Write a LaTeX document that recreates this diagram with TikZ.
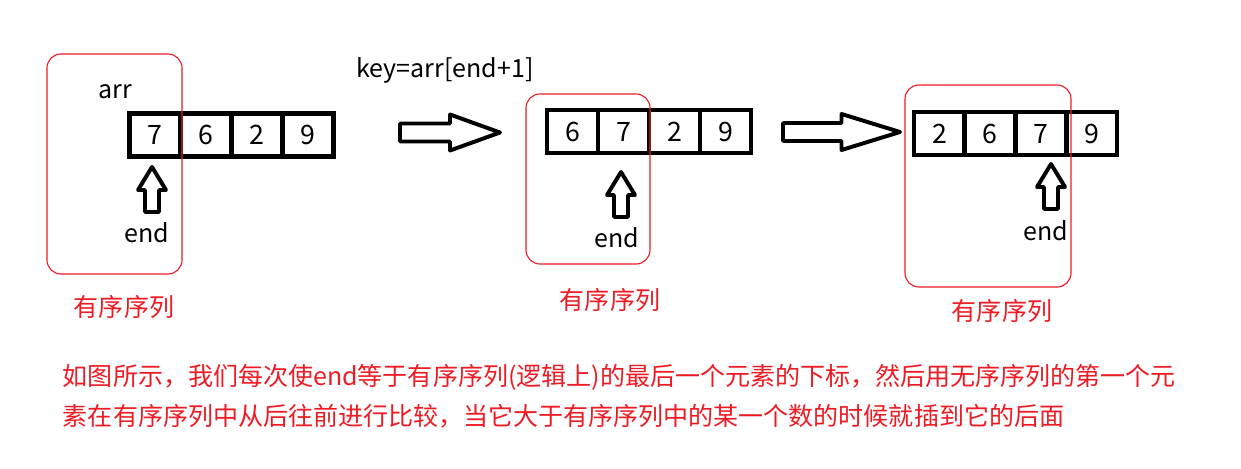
\documentclass[tikz,border=0pt]{standalone}
\usepackage{fontspec}
\setmainfont{Noto Sans CJK SC}
\usetikzlibrary{positioning}
\definecolor{paintred}{RGB}{237,28,36}

% hollow up arrow under a cell, tip at #1
\newcommand\ptrarrow[1]{\draw[hollow] (#1) -- ++(14,23) -- ++(-7,0) -- ++(0,22) -- ++(-14,0) -- ++(0,-22) -- ++(-7,0) -- cycle;}
% hollow right arrow, #1 = middle of the tail, #2 = length
\newcommand\steparrow[2]{\draw[hollow] (#1) ++(0,-9) -- ++(#2/2,0) -- ++(0,-9) -- ++(#2/2,18) -- ++(-#2/2,18) -- ++(0,-9) -- ++(-#2/2,0) -- cycle;}

\begin{document}
\begin{tikzpicture}[
    x=0.025cm, y=-0.025cm,
    every node/.style={font=\fontsize{17.8}{21}\selectfont},
    cell/.style={draw, line width=3.2pt, minimum width=1.275cm, minimum height=1.08cm, inner sep=0pt, outer sep=0pt, font=\fontsize{19}{21}\selectfont},
    seqframe/.style={draw=paintred, line width=0.8pt, rounded corners=0.35cm, inner sep=0pt},
    redtxt/.style={text=paintred},
    hollow/.style={draw, line width=2.8pt, line join=round, fill=white}
]
\useasboundingbox (0,0) rectangle (1241,468);

% step 1
\foreach \v [count=\i] in {7,6,2,9}
  \node[cell] (a\i) at ({155+51*(\i-1)},135) {\v};
\node (arr) at (115,92) {arr};
\coordinate (t1) at (152,167);
\ptrarrow{t1}
\node (end1) at (147,233) {end};
\node[seqframe, minimum width=3.375cm, minimum height=5.5cm] (f1) at (114.5,164) {};
\node[redtxt] (lab1) at (124,307) {有序序列};

\node (key) at (445,70) {key=arr[end+1]};
\coordinate (s1) at (400,132.5);
\steparrow{s1}{100}

% step 2
\foreach \v [count=\i] in {6,7,2,9}
  \node[cell] (b\i) at ({572.5+51*(\i-1)},131.5) {\v};
\coordinate (t2) at (621,172);
\ptrarrow{t2}
\node (end2) at (617,238) {end};
\node[seqframe, minimum width=3.1cm, minimum height=4.25cm] (f2) at (588,179) {};
\node[redtxt] (lab2) at (610,300) {有序序列};

\coordinate (s2) at (783,132);
\steparrow{s2}{117}

% step 3
\foreach \v [count=\i] in {2,6,7,9}
  \node[cell] (c\i) at ({939.5+50.7*(\i-1)},133.5) {\v};
\coordinate (t3) at (1051,164);
\ptrarrow{t3}
\node (end3) at (1046,231) {end};
\node[seqframe, minimum width=4.15cm, minimum height=5.05cm] (f3) at (988,186) {};
\node[redtxt] (lab3) at (1002,311) {有序序列};

% note
\node[redtxt, anchor=west] (note1) at (58,377) {如图所示，我们每次使end等于有序序列(逻辑上)的最后一个元素的下标，然后用无序序列的第一个元};
\node[redtxt, anchor=west] (note2) at (58,416) {素在有序序列中从后往前进行比较，当它大于有序序列中的某一个数的时候就插到它的后面};
\end{tikzpicture}
\end{document}
